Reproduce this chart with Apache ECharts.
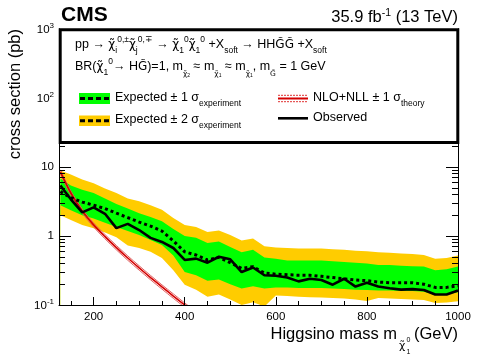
<!DOCTYPE html>
<html>
<head>
<meta charset="utf-8">
<script src="https://cdn.jsdelivr.net/npm/echarts@6/dist/echarts.min.js"></script>
<style>
  html, body { margin: 0; padding: 0; background: #fff; }
  #chart { width: 498px; height: 358px; }
</style>
</head>
<body>
<div id="chart"></div>
<script>
// higgsino mass points (GeV)
const masses = [127, 150, 175, 200, 225, 250, 275, 300, 325, 350, 375, 400, 425, 450, 475, 500, 525, 550,
  575, 600, 625, 650, 675, 700, 725, 750, 775, 800, 825, 850, 875, 900, 925, 950, 975, 1000];

// 95% CL upper limits on the cross section (pb)
const observed = [5.4, 3.4, 2.2, 2.6, 2.1, 1.3, 1.5, 1.22, 0.94, 0.82, 0.67, 0.45, 0.47, 0.41, 0.5, 0.46, 0.30, 0.35,
  0.27, 0.265, 0.25, 0.22, 0.24, 0.23, 0.197, 0.24, 0.185, 0.21, 0.185, 0.175, 0.167, 0.17, 0.165, 0.142, 0.142, 0.162];
const expected = [4.4, 3.6, 3.1, 2.8, 2.5, 2.14, 1.85, 1.59, 1.39, 1.18, 0.85, 0.59, 0.53, 0.45, 0.49, 0.41, 0.34, 0.36,
  0.29, 0.28, 0.275, 0.27, 0.27, 0.26, 0.25, 0.24, 0.23, 0.225, 0.215, 0.21, 0.21, 0.21, 0.2, 0.18, 0.18, 0.19];
const expUp1 = [6.8, 5.4, 4.7, 4.2, 3.5, 2.9, 2.5, 2.14, 1.88, 1.64, 1.26, 1.0, 0.94, 0.79, 0.83, 0.69, 0.58, 0.63,
  0.49, 0.47, 0.44, 0.44, 0.44, 0.44, 0.43, 0.42, 0.41, 0.40, 0.38, 0.38, 0.37, 0.365, 0.36, 0.32, 0.33, 0.36];
const expDown1 = [2.8, 2.37, 2.0, 1.79, 1.56, 1.35, 1.18, 1.03, 0.875, 0.74, 0.52, 0.30, 0.27, 0.225, 0.235, 0.2, 0.173, 0.187,
  0.173, 0.179, 0.179, 0.176, 0.176, 0.176, 0.173, 0.17, 0.167, 0.165, 0.162, 0.162, 0.16, 0.16, 0.156, 0.142, 0.142, 0.153];
const expUp2 = [8.9, 7.8, 6.6, 5.8, 4.9, 4.2, 3.5, 3.2, 2.8, 2.4, 1.82, 1.44, 1.35, 1.14, 1.2, 1.03, 0.86, 0.92,
  0.71, 0.68, 0.67, 0.66, 0.66, 0.66, 0.64, 0.63, 0.61, 0.60, 0.58, 0.57, 0.56, 0.55, 0.53, 0.47, 0.48, 0.52];
const expDown2 = [2.0, 1.7, 1.44, 1.29, 1.12, 0.96, 0.73, 0.67, 0.59, 0.48, 0.32, 0.197, 0.167, 0.132, 0.142, 0.12, 0.10, 0.11,
  0.095, 0.137, 0.135, 0.132, 0.13, 0.128, 0.126, 0.124, 0.12, 0.114, 0.126, 0.124, 0.122, 0.12, 0.118, 0.107, 0.109, 0.113];

// NLO+NLL higgsino pair cross section (pb) and its +-1 sigma
const theoryMasses = [127, 150, 175, 200, 225, 250, 275, 300, 325, 350, 375, 400, 425, 450];
const theoryXsec = [8.5, 4.2, 2.3, 1.45, 0.98, 0.68, 0.48, 0.345, 0.25, 0.183, 0.135, 0.1, 0.075, 0.056];
const theoryUp = [9.1, 4.5, 2.46, 1.55, 1.05, 0.73, 0.515, 0.37, 0.268, 0.196, 0.145, 0.107, 0.08, 0.06];
const theoryDown = [7.9, 3.9, 2.14, 1.35, 0.91, 0.63, 0.445, 0.32, 0.232, 0.17, 0.125, 0.093, 0.07, 0.052];

// axis ticks
const xMajorTicks = [200, 400, 600, 800, 1000];
const xMinorTicks = [150, 250, 300, 350, 450, 500, 550, 650, 700, 750, 850, 900, 950];
const yMajorTicks = [0.1, 1, 10, 100, 1000];
const yMinorTicks = [];
[0.1, 1, 10, 100].forEach(d => { for (let k = 2; k <= 9; k++) yMinorTicks.push(+(k * d).toPrecision(3)); });

const FONT = "'Liberation Sans', Arial, Helvetica, sans-serif";
const GREEK = "'DejaVu Sans', 'Liberation Sans', sans-serif";
const X_MIN = 124, X_MAX = 1000, Y_MIN = 0.1, Y_MAX = 1000;

const pairs = (xs, ys) => xs.map((x, i) => [x, ys[i]]);

const chart = echarts.init(document.getElementById('chart'), null, { renderer: 'canvas' });

function bandSeries(name, data, color) {
  return {
    name, type: 'line', data: pairs(masses, data), showSymbol: false, symbol: 'none',
    lineStyle: { width: 0 }, areaStyle: { color, opacity: 1, origin: 'start' }, z: 1, silent: true
  };
}

function xAxisDef(ticks, len, labels) {
  return {
    type: 'value', min: X_MIN, max: X_MAX, position: 'bottom', z: 5,
    axisLine: { show: labels, onZero: false, lineStyle: { color: '#000', width: 1 } },
    axisTick: { show: true, inside: true, length: len, customValues: ticks, lineStyle: { color: '#000', width: 1 } },
    axisLabel: labels ? {
      show: true, customValues: ticks, color: '#000', fontSize: 11.5, fontFamily: FONT, margin: 6,
      formatter: v => String(v)
    } : { show: false },
    splitLine: { show: false }
  };
}

function yAxisDef(pos, ticks, len, labels) {
  return {
    type: 'log', logBase: 10, min: Y_MIN, max: Y_MAX, position: pos, z: 5,
    axisLine: { show: true, onZero: false, lineStyle: { color: '#000', width: 1 } },
    axisTick: { show: true, inside: true, length: len, customValues: ticks, lineStyle: { color: '#000', width: 1 } },
    axisLabel: labels ? {
      show: true, customValues: ticks, color: '#000', fontFamily: FONT, fontSize: 11.5, margin: 5,
      formatter: v => {
        const e = Math.round(Math.log10(v));
        if (e === 0) return '{b|1}';
        if (e === 1) return '{b|10}';
        return '{b|10}{s|' + e + '}';
      },
      rich: {
        b: { fontSize: 11.5, fontFamily: FONT, color: '#000', padding: [0, 0, 0, 0], verticalAlign: 'bottom' },
        s: { fontSize: 8, fontFamily: FONT, color: '#000', padding: [0, 0, 6, 0], verticalAlign: 'bottom' }
      }
    } : { show: false },
    splitLine: { show: false }
  };
}

// rich text styles shared by the legend lines
const T = 12.5, S = 8.5;
const richStyle = {
  m: { fontSize: T, fontFamily: FONT, fill: '#000', padding: [0, 0, 5, 0], verticalAlign: 'bottom' },
  c: { fontSize: 12, fontFamily: GREEK, fill: '#000', padding: [0, 0, 5, 0], verticalAlign: 'bottom' },
  u: { fontSize: S, fontFamily: FONT, fill: '#000', padding: [0, 0, 12, 0], verticalAlign: 'bottom' },
  d: { fontSize: S, fontFamily: FONT, fill: '#000', padding: [0, 0, 1, 0], verticalAlign: 'bottom' },
  dc: { fontSize: 7.5, fontFamily: GREEK, fill: '#000', padding: [0, 0, 0, 0], verticalAlign: 'bottom' },
  dd: { fontSize: 5, fontFamily: FONT, fill: '#000', padding: [0, 0, 0, 0], verticalAlign: 'bottom' }
};

function richText(x, y, text, extra) {
  return Object.assign({
    type: 'text', x, y, z: 102,
    style: { text, rich: richStyle, fill: '#000', font: T + 'px ' + FONT, textAlign: 'left', textVerticalAlign: 'middle' }
  }, extra || {});
}

const chi = 'χ̃';
const line1 = '{m|pp → }{c|' + chi + '}{d|i}{u|0,±}{c|' + chi + '}{d|j}{u|0,∓}{m| → }{c|' + chi + '}{d|1}{u|0}{c|' + chi + '}{d|1}{u|0}'
  + '{m| +X}{d|soft}{m| → HH}{c|G̃G̃}{m| +X}{d|soft}';
const line2 = '{m|BR(}{c|' + chi + '}{d|1}{u|0}{m|→ H}{c|G̃}{m|)=1, m}{dc|' + chi + '}{dd|2}{m| ≈ m}{dc|' + chi + '}{dd|1}{m| ≈ m}{dc|' + chi + '}{dd|1}'
  + '{m|, m}{dc|G̃}{m| = 1 GeV}';

const option = {
  animation: false,
  grid: { left: 59, right: 40, top: 29, bottom: 53, containLabel: false },
  xAxis: [xAxisDef(xMajorTicks, 8, true), xAxisDef(xMinorTicks, 4, false)],
  yAxis: [
    yAxisDef('left', yMajorTicks, 12, true),
    yAxisDef('left', yMinorTicks, 6, false),
    yAxisDef('right', yMajorTicks, 12, false),
    yAxisDef('right', yMinorTicks, 6, false)
  ],
  series: [
    bandSeries('exp +2 sigma', expUp2, '#ffcc00'),
    bandSeries('exp +1 sigma', expUp1, '#00ff00'),
    bandSeries('exp -1 sigma', expDown1, '#ffcc00'),
    bandSeries('exp -2 sigma', expDown2, '#ffffff'),
    {
      name: 'theory up', type: 'line', data: pairs(theoryMasses, theoryUp), showSymbol: false, symbol: 'none',
      smooth: 0.3, lineStyle: { color: '#e06060', width: 1 }, z: 3
    },
    {
      name: 'theory down', type: 'line', data: pairs(theoryMasses, theoryDown), showSymbol: false, symbol: 'none',
      smooth: 0.3, lineStyle: { color: '#e06060', width: 1 }, z: 3
    },
    {
      name: 'NLO+NLL', type: 'line', data: pairs(theoryMasses, theoryXsec), showSymbol: false, symbol: 'none',
      smooth: 0.3, lineStyle: { color: '#d40000', width: 1.6 }, z: 3
    },
    {
      name: 'Expected', type: 'line', data: pairs(masses, expected), showSymbol: false, symbol: 'none',
      lineStyle: { color: '#000', width: 3, type: [3, 3] }, z: 4
    },
    {
      name: 'Observed', type: 'line', data: pairs(masses, observed), showSymbol: false, symbol: 'none',
      lineStyle: { color: '#000', width: 2.6 }, z: 4
    }
  ],
  graphic: [
    // legend box
    { type: 'rect', z: 100, shape: { x: 60.2, y: 29.8, width: 397.6, height: 112.6 },
      style: { fill: '#fff', stroke: '#000', lineWidth: 3 } },
    richText(75, 45.7, line1),
    richText(75, 67.7, line2),
    // expected +-1 sigma entry
    { type: 'rect', z: 101, shape: { x: 79, y: 93, width: 31, height: 11 }, style: { fill: '#00ff00' } },
    { type: 'line', z: 102, shape: { x1: 80, y1: 98.5, x2: 110, y2: 98.5 }, style: { stroke: '#000', lineWidth: 3, lineDash: [5, 3] } },
    richText(115, 99.8, '{m|Expected ± 1 σ}{d|experiment}'),
    // expected +-2 sigma entry
    { type: 'rect', z: 101, shape: { x: 79, y: 115.5, width: 31, height: 10.5 }, style: { fill: '#ffcc00' } },
    { type: 'line', z: 102, shape: { x1: 80, y1: 120.8, x2: 110, y2: 120.8 }, style: { stroke: '#000', lineWidth: 3, lineDash: [5, 3] } },
    richText(115, 122.3, '{m|Expected ± 2 σ}{d|experiment}'),
    // theory entry
    { type: 'line', z: 102, shape: { x1: 278, y1: 95.3, x2: 308, y2: 95.3 }, style: { stroke: '#e03030', lineWidth: 1, lineDash: [2, 1] } },
    { type: 'line', z: 102, shape: { x1: 278, y1: 98.5, x2: 308, y2: 98.5 }, style: { stroke: '#d40000', lineWidth: 2 } },
    { type: 'line', z: 102, shape: { x1: 278, y1: 101.7, x2: 308, y2: 101.7 }, style: { stroke: '#e03030', lineWidth: 1, lineDash: [2, 1] } },
    richText(313, 99.7, '{m|NLO+NLL ± 1 σ}{d|theory}'),
    // observed entry
    { type: 'line', z: 102, shape: { x1: 278, y1: 118.3, x2: 308, y2: 118.3 }, style: { stroke: '#000', lineWidth: 2.6 } },
    richText(313, 119.7, '{m|Observed}'),
    // header
    { type: 'text', x: 61, y: 15, z: 102,
      style: { text: 'CMS', font: 'bold 21px ' + FONT, fill: '#000', textAlign: 'left', textVerticalAlign: 'middle' } },
    { type: 'text', x: 458, y: 16.5, z: 102,
      style: { text: '{a|35.9 fb}{b|-1}{a| (13 TeV)}', fill: '#000', font: '16.5px ' + FONT, textAlign: 'right', textVerticalAlign: 'middle',
        rich: {
          a: { fontSize: 16.5, fontFamily: FONT, fill: '#000', padding: [0, 0, 0, 0], verticalAlign: 'bottom' },
          b: { fontSize: 10.5, fontFamily: FONT, fill: '#000', padding: [0, 0, 7, 0], verticalAlign: 'bottom' }
        } } },
    // y axis title
    { type: 'text', x: 15, y: 29, rotation: Math.PI / 2, z: 102,
      style: { text: 'cross section (pb)', font: '16.5px ' + FONT, fill: '#000', textAlign: 'right', textVerticalAlign: 'middle' } },
    // x axis title
    { type: 'text', x: 397, y: 334, z: 102,
      style: { text: 'Higgsino mass m', font: '16.5px ' + FONT, fill: '#000', textAlign: 'right', textVerticalAlign: 'middle' } },
    { type: 'text', x: 399, y: 346, z: 102,
      style: { text: chi, font: '11px ' + GREEK, fill: '#000', textAlign: 'left', textVerticalAlign: 'middle' } },
    { type: 'text', x: 406.5, y: 340, z: 102,
      style: { text: '0', font: '7px ' + FONT, fill: '#000', textAlign: 'left', textVerticalAlign: 'middle' } },
    { type: 'text', x: 406.5, y: 352, z: 102,
      style: { text: '1', font: '7px ' + FONT, fill: '#000', textAlign: 'left', textVerticalAlign: 'middle' } },
    { type: 'text', x: 458, y: 334, z: 102,
      style: { text: '(GeV)', font: '16.5px ' + FONT, fill: '#000', textAlign: 'right', textVerticalAlign: 'middle' } }
  ]
};

chart.setOption(option);
</script>
</body>
</html>
